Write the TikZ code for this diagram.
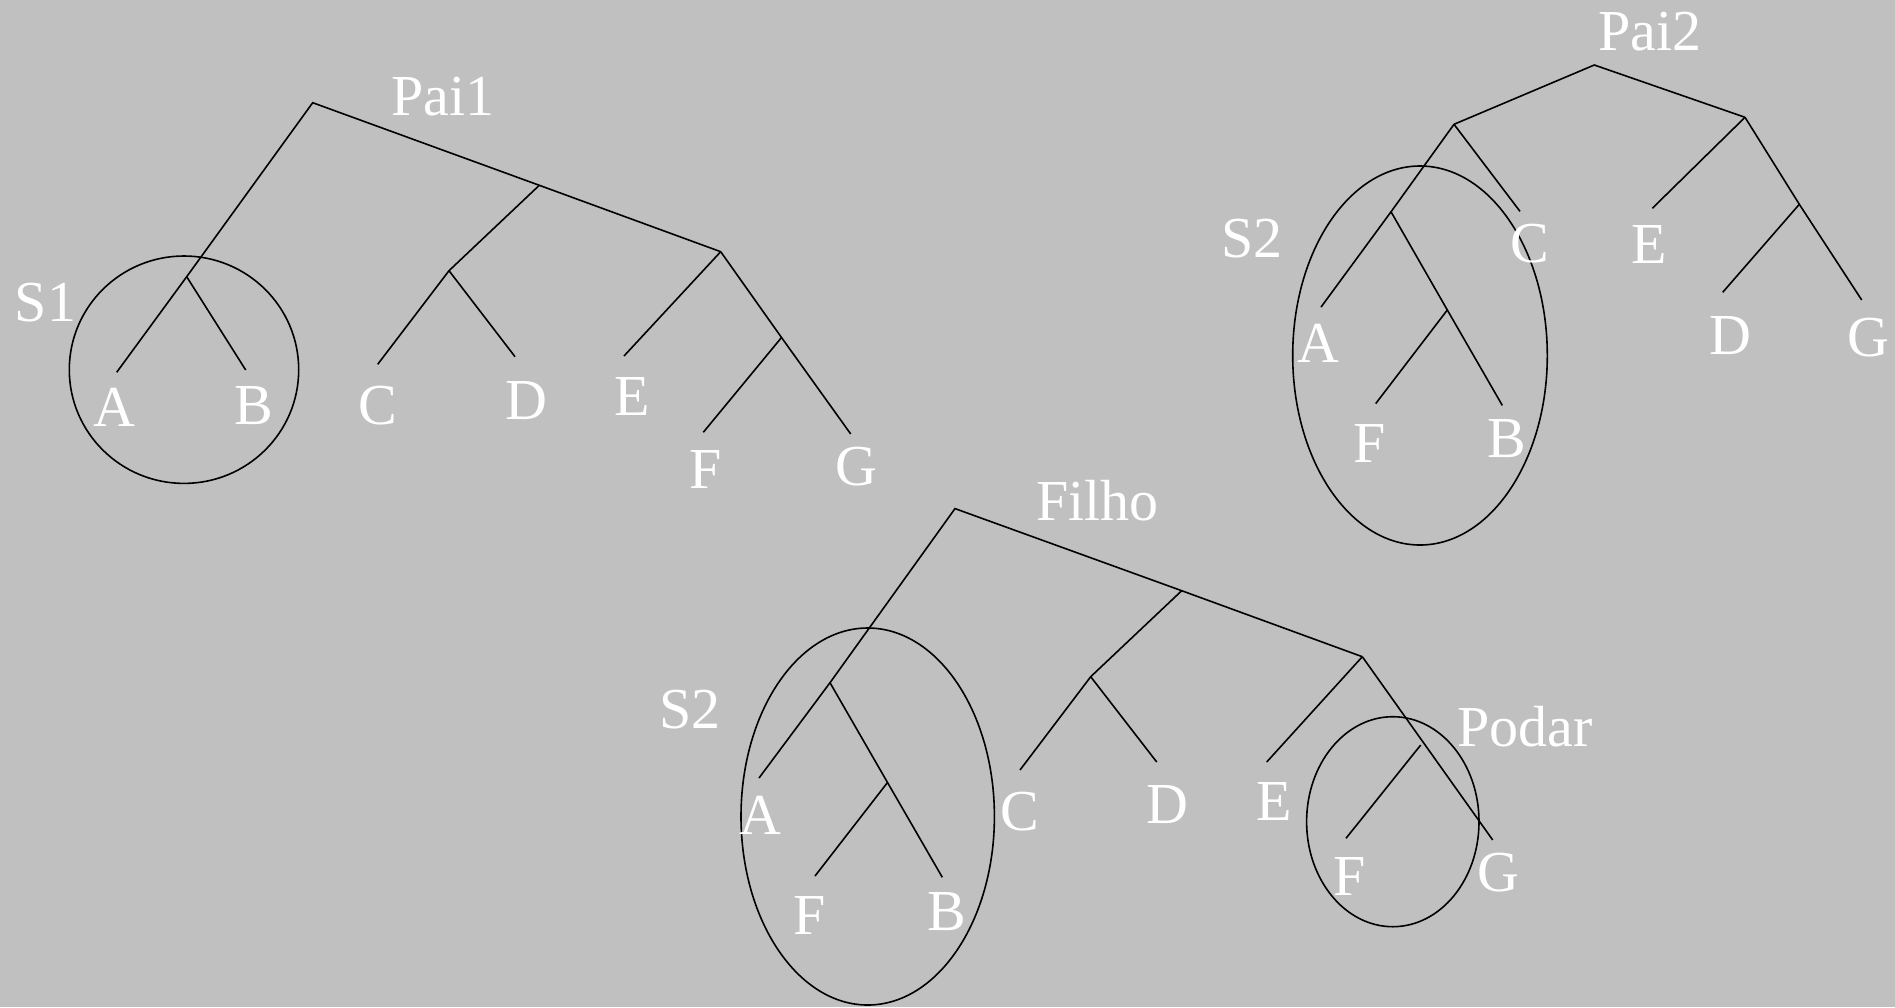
\documentclass[tikz,border=0pt]{standalone}
\usepackage{fontspec}
\setmainfont{Liberation Serif}
\usetikzlibrary{shapes.geometric}
\definecolor{bg}{RGB}{192,192,192}
\begin{document}
\begin{tikzpicture}[x=1pt,y=-1pt,
  edge/.style={line width=1.6pt},
  lbl/.style={text=white,inner sep=0pt,anchor=base,font=\fontsize{58}{60}\selectfont},
  ring/.style={draw,ellipse,line width=1.6pt,inner sep=0pt}]
\fill[bg] (0,0) rectangle (1895,1007);
\useasboundingbox (0,0) rectangle (1895,1007);

% ---------- Pai1 ----------
\coordinate (p1r) at (312.7,102.7);
\coordinate (p1ab) at (186.7,276.7);
\coordinate (p1a) at (116.7,372.3);
\coordinate (p1b) at (245.7,370);
\coordinate (p1cdj) at (539.3,185.3);
\coordinate (p1cd) at (449,270.7);
\coordinate (p1c) at (377.7,364.3);
\coordinate (p1d) at (515,356.7);
\coordinate (p1efg) at (720.7,251.7);
\coordinate (p1e) at (624,356);
\coordinate (p1fg) at (781.5,337.5);
\coordinate (p1f) at (703.3,432.3);
\coordinate (p1g) at (850.7,434);
\draw[edge] (p1a)--(p1ab)--(p1r)--(p1cdj)--(p1efg);
\draw[edge] (p1ab)--(p1b);
\draw[edge] (p1cdj)--(p1cd)--(p1c);
\draw[edge] (p1cd)--(p1d);
\draw[edge] (p1efg)--(p1e);
\draw[edge] (p1efg)--(p1fg)--(p1g);
\draw[edge] (p1fg)--(p1f);
\node[ring,minimum width=229.4pt,minimum height=227.4pt] (s1) at (184,369.7) {};
\node[lbl] (tpai1) at (443,115) {Pai1};
\node[lbl] (ts1) at (45.5,321.5) {S1};
\node[lbl] (ta1) at (114.7,426.7) {A};
\node[lbl] (tb1) at (254,424) {B};
\node[lbl] (tc1) at (378,424) {C};
\node[lbl] (td1) at (526,419.3) {D};
\node[lbl] (te1) at (632,415) {E};
\node[lbl] (tf1) at (706,488.3) {F};
\node[lbl] (tg1) at (856,485) {G};

% ---------- Pai2 ----------
\coordinate (p2r) at (1594.3,65);
\coordinate (p2l) at (1454,124.3);
\coordinate (p2rt) at (1745,117.3);
\coordinate (p2c) at (1520,211.4);
\coordinate (p2afb) at (1391,211.8);
\coordinate (p2a) at (1321,307.1);
\coordinate (p2fb) at (1447.3,310);
\coordinate (p2b) at (1502.3,405.4);
\coordinate (p2f) at (1375.7,403.6);
\coordinate (p2e) at (1652.3,208.3);
\coordinate (p2dg) at (1799.3,204.3);
\coordinate (p2g) at (1861.7,300);
\coordinate (p2d) at (1722.7,292.3);
\draw[edge] (p2l)--(p2r)--(p2rt);
\draw[edge] (p2l)--(p2c);
\draw[edge] (p2l)--(p2afb)--(p2a);
\draw[edge] (p2afb)--(p2fb)--(p2b);
\draw[edge] (p2fb)--(p2f);
\draw[edge] (p2rt)--(p2e);
\draw[edge] (p2rt)--(p2dg)--(p2g);
\draw[edge] (p2dg)--(p2d);
\node[ring,minimum width=254.6pt,minimum height=379pt] (s2a) at (1420,355.5) {};
\node[lbl] (tpai2) at (1650,50.7) {Pai2};
\node[lbl] (ts2a) at (1252,257) {S2};
\node[lbl] (tc2) at (1530,262.5) {C};
\node[lbl] (te2) at (1649,263.2) {E};
\node[lbl] (ta2) at (1318,362.5) {A};
\node[lbl] (tf2) at (1370,462.5) {F};
\node[lbl] (tb2) at (1507,457.9) {B};
\node[lbl] (td2) at (1730,354) {D};
\node[lbl] (tg2) at (1868,356.7) {G};

% ---------- Filho ----------
\coordinate (fr) at (955,508.6);
\coordinate (fafb) at (830,682.7);
\coordinate (fa) at (759,778);
\coordinate (ffb) at (887.5,782.5);
\coordinate (fb) at (942.3,877.3);
\coordinate (ff) at (815,876);
\coordinate (fcdj) at (1181.7,590.7);
\coordinate (fcd) at (1090.7,676.7);
\coordinate (fc) at (1020,770);
\coordinate (fd) at (1156.7,762);
\coordinate (fefg) at (1362.3,656.7);
\coordinate (fe) at (1266.7,762);
\coordinate (fg) at (1492.7,840);
\coordinate (ffs) at (1420.7,745);
\coordinate (fff) at (1346,838.3);
\draw[edge] (fa)--(fafb)--(fr)--(fcdj)--(fefg);
\draw[edge] (fafb)--(ffb)--(fb);
\draw[edge] (ffb)--(ff);
\draw[edge] (fcdj)--(fcd)--(fc);
\draw[edge] (fcd)--(fd);
\draw[edge] (fefg)--(fe);
\draw[edge] (fefg)--(fg);
\draw[edge] (ffs)--(fff);
\node[ring,minimum width=253.4pt,minimum height=377pt] (s2b) at (867.7,816.5) {};
\node[ring,minimum width=172.4pt,minimum height=210pt] (pod) at (1392.8,821.7) {};
\node[lbl] (tfilho) at (1097.5,520.7) {Filho};
\node[lbl] (ts2b) at (690,728) {S2};
\node[lbl] (ta3) at (760,834.6) {A};
\node[lbl] (tf3) at (810,934.5) {F};
\node[lbl] (tb3) at (947,930.4) {B};
\node[lbl] (tc3) at (1020,830.7) {C};
\node[lbl] (td3) at (1167.5,823.3) {D};
\node[lbl] (te3) at (1274,820.7) {E};
\node[lbl] (tf4) at (1350,895) {F};
\node[lbl] (tg3) at (1498,891.7) {G};
\node[lbl] (tpodar) at (1525,746) {Podar};
\end{tikzpicture}
\end{document}
